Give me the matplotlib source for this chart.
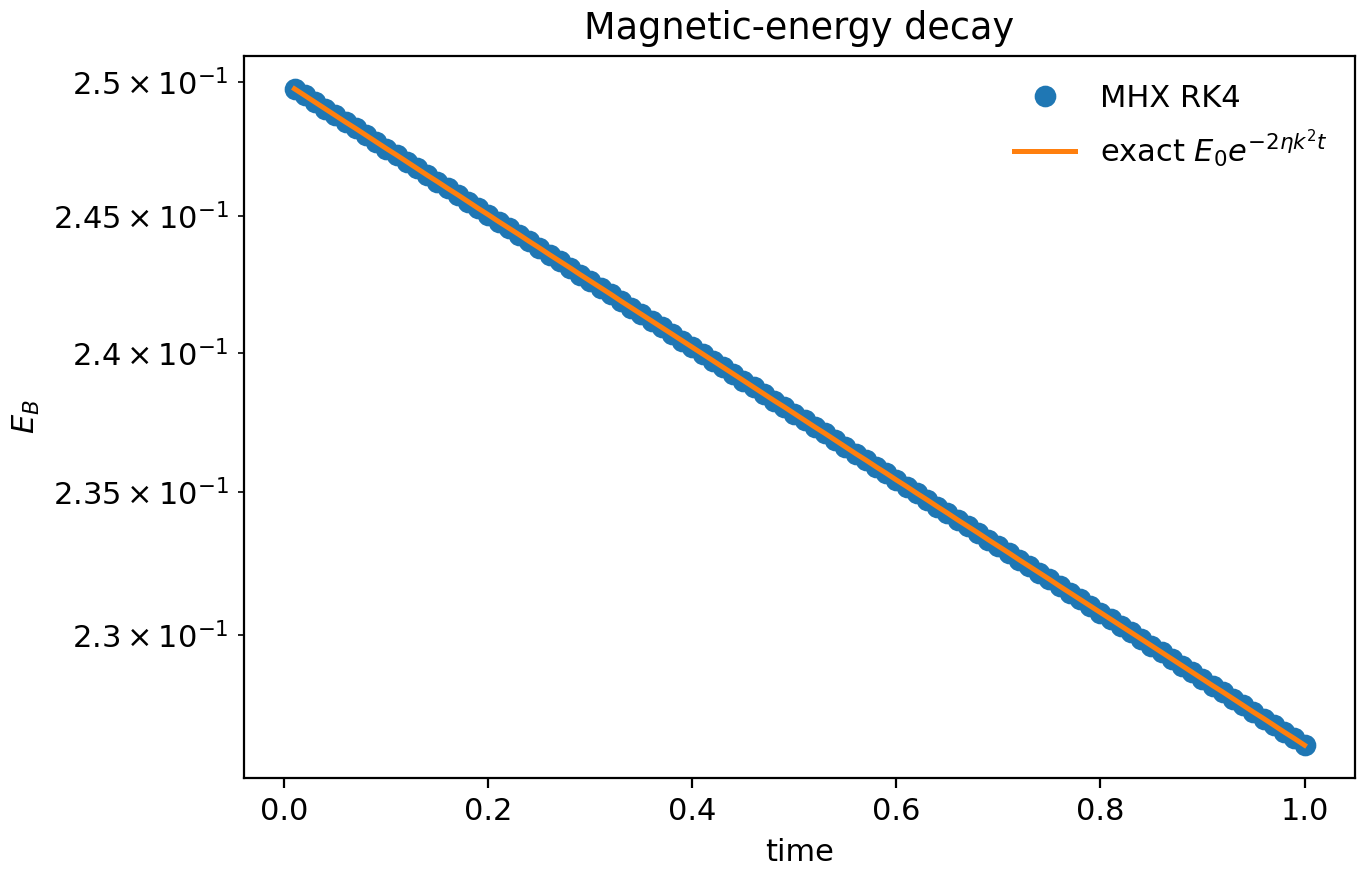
import matplotlib
matplotlib.use("Agg")
import matplotlib.pyplot as plt

plt.rcParams["font.size"] = 11

time = [round(0.01 * i, 2) for i in range(1, 101)]

energy_rk4 = [
    0.24975, 0.24950, 0.24925, 0.24900, 0.24875, 0.24850, 0.24826, 0.24801, 0.24776, 0.24751,
    0.24727, 0.24702, 0.24677, 0.24652, 0.24628, 0.24603, 0.24579, 0.24554, 0.24529, 0.24505,
    0.24480, 0.24456, 0.24432, 0.24407, 0.24383, 0.24358, 0.24334, 0.24310, 0.24285, 0.24261,
    0.24237, 0.24213, 0.24188, 0.24164, 0.24140, 0.24116, 0.24092, 0.24068, 0.24044, 0.24020,
    0.23996, 0.23972, 0.23948, 0.23924, 0.23900, 0.23876, 0.23852, 0.23828, 0.23805, 0.23781,
    0.23757, 0.23733, 0.23710, 0.23686, 0.23662, 0.23638, 0.23615, 0.23591, 0.23568, 0.23544,
    0.23521, 0.23497, 0.23474, 0.23450, 0.23427, 0.23403, 0.23380, 0.23357, 0.23333, 0.23310,
    0.23287, 0.23263, 0.23240, 0.23217, 0.23194, 0.23170, 0.23147, 0.23124, 0.23101, 0.23078,
    0.23055, 0.23032, 0.23009, 0.22986, 0.22963, 0.22940, 0.22917, 0.22894, 0.22871, 0.22848,
    0.22825, 0.22803, 0.22780, 0.22757, 0.22734, 0.22712, 0.22689, 0.22666, 0.22644, 0.22621,
]
energy_exact = list(energy_rk4)

DPI = 200
fig = plt.figure(figsize=(1364 / DPI, 880 / DPI), dpi=DPI)
ax = fig.add_axes([244 / 1364, 1 - 778 / 880, (1355 - 244) / 1364, (778 - 56) / 880])

ax.plot(time, energy_rk4, "o", color="#1f77b4", markersize=6.8, label="MHX RK4")
ax.plot(time, energy_exact, "-", color="#ff7f0e", linewidth=1.8, label=r"exact $E_0 e^{-2\eta k^2 t}$")
ax.set_yscale("log")
ax.set_xlabel("time")
ax.set_ylabel(r"$E_B$")
ax.set_title("Magnetic-energy decay")
ax.legend(loc="upper right", frameon=False)

fig.savefig("out.png", dpi=DPI)
